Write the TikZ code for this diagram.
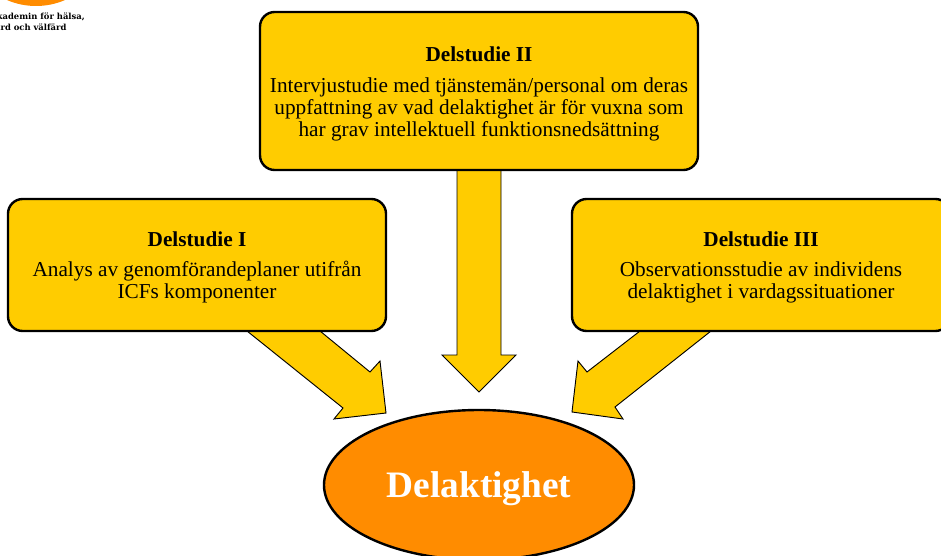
\documentclass[tikz,border=0pt]{standalone}
\usepackage{fontspec}
\setmainfont{Liberation Serif}
\newfontfamily\logofont{DejaVu Serif}
\definecolor{boxyellow}{HTML}{FFCC00}
\definecolor{ovalorange}{HTML}{FF8C00}
\tikzset{
  x=0.75pt,y=-0.75pt,
  panel/.style={draw=black,line width=1.8pt,fill=boxyellow,rounded corners=11pt,inner sep=0pt},
  blockarrow/.style={draw=black,line width=0.7pt,fill=boxyellow,line join=miter},
  bodytext/.style={font=\fontsize{15.95pt}{16.6pt}\selectfont,align=center,text=black},
  logotext/.style={font=\logofont\bfseries\fontsize{6.3pt}{8pt}\selectfont,align=left,anchor=north west,inner sep=0pt}
}
\begin{document}
\begin{tikzpicture}
\useasboundingbox (0,0) rectangle (941,556);
\clip (0,0) rectangle (941,556);
\fill[white] (0,0) rectangle (941,556);
% logo
\fill[ovalorange] (36,-67) circle [radius=73*0.75pt];
\node[logotext] (logo) at (-10,13) {Akademin för hälsa,\\vård och välfärd};
% block arrows
\draw[blockarrow] (247,331)--(320,331)--(370,372)--(380,361)--(386,413)--(334,419)--(343,408)--cycle;
\draw[blockarrow] (457,165)--(501,165)--(501,355)--(516,355)--(479,392)--(442,355)--(457,355)--cycle;
\draw[blockarrow] (640,331)--(711,331)--(615,407)--(623,419)--(572,412)--(578,361)--(587,372)--cycle;
% panels
\draw[panel] (260,12) rectangle (698,170);
\draw[panel] (8,199) rectangle (386,331);
\draw[panel] (572,199) rectangle (950,331);
\node[bodytext] (two) at (479,94) {\textbf{Delstudie II}\\[6.5pt]Intervjustudie med tjänstemän/personal om deras\\uppfattning av vad delaktighet är för vuxna som\\har grav intellektuell funktionsnedsättning};
\node[bodytext] (one) at (197,267.5) {\textbf{Delstudie I}\\[6pt]Analys av genomförandeplaner utifrån\\ICFs komponenter};
\node[bodytext] (three) at (761,267.5) {\textbf{Delstudie III}\\[6pt]Observationsstudie av individens\\delaktighet i vardagssituationer};
% oval
\draw[draw=black,line width=1.8pt,fill=ovalorange] (479,485) ellipse [x radius=155*0.75pt,y radius=75*0.75pt];
\node[font=\bfseries\fontsize{28pt}{30pt}\selectfont,text=white] (main) at (479,489) {Delaktighet};
\end{tikzpicture}
\end{document}
